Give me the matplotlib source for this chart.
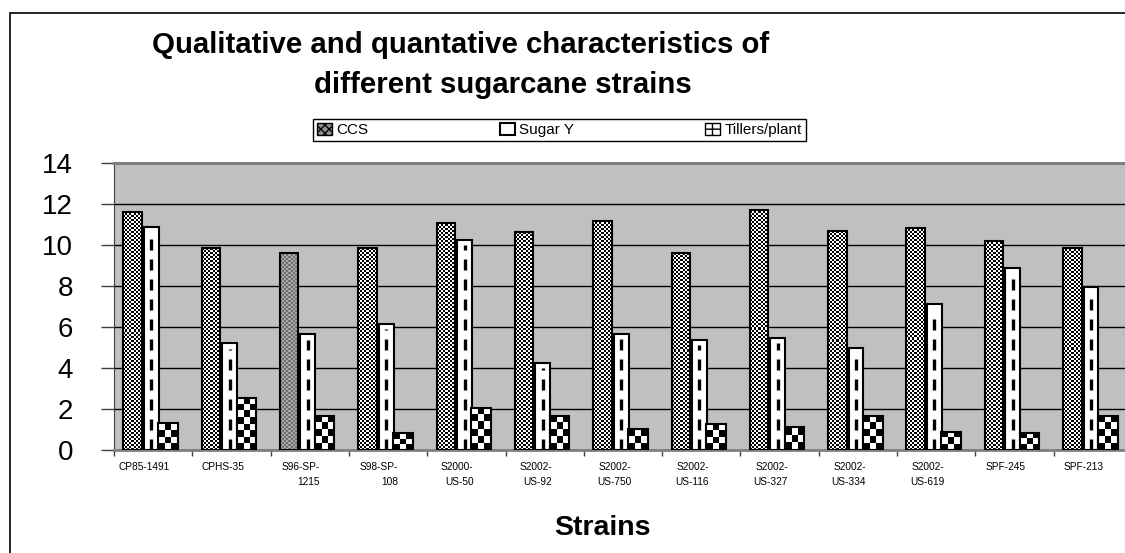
import numpy as np
import matplotlib
matplotlib.use("Agg")
import matplotlib.pyplot as plt
from matplotlib.colors import ListedColormap
from matplotlib.patches import Patch, Rectangle

plt.rcParams['font.family'] = ['Liberation Sans', 'DejaVu Sans']

# Strain data
strains = ["CP85-1491", "CPHS-35", "S96-SP-\n1215", "S98-SP-\n108", "S2000-\nUS-50",
           "S2002-\nUS-92", "S2002-\nUS-750", "S2002-\nUS-116", "S2002-\nUS-327",
           "S2002-\nUS-334", "S2002-\nUS-619", "SPF-245", "SPF-213"]
ccs = [11.62, 9.84, 9.63, 9.84, 11.09, 10.61, 11.18, 9.59, 11.71, 10.66, 10.85, 10.2, 9.87]
sugar_y = [10.9, 5.2, 5.64, 6.15, 10.24, 4.23, 5.66, 5.37, 5.45, 4.99, 7.1, 8.86, 7.97]
tillers = [1.30, 2.55, 1.67, 0.81, 2.06, 1.67, 1.01, 1.27, 1.10, 1.67, 0.90, 0.85, 1.66]
y_ticks = [0, 2, 4, 6, 8, 10, 12, 14]

W, H = 1125, 553
fig = plt.figure(figsize=(W / 100, H / 100), dpi=100)

# plot area in pixels: x 114..1132, y 163..450
ax = fig.add_axes([114 / W, 1 - 450 / H, 1018 / W, 287 / H])
ax.set_facecolor('#c0c0c0')
ax.set_xlim(-0.5, len(strains) - 0.5)
ax.set_ylim(0, 14)
ax.set_autoscale_on(False)

x = np.arange(len(strains))


def checker_fill(bar, cell_px, colors, z):
    x0, y0 = bar.get_x(), bar.get_y()
    w, h = bar.get_width(), bar.get_height()
    (px0, py0), (px1, py1) = ax.transData.transform([(x0, y0), (x0 + w, y0 + h)])
    nx = max(1, int(round((px1 - px0) / cell_px)))
    ny = max(1, int(round((py1 - py0) / cell_px)))
    grid = np.indices((ny, nx)).sum(axis=0) % 2
    ax.imshow(grid, extent=(x0, x0 + w, y0, y0 + h), cmap=ListedColormap(colors),
              interpolation='nearest', aspect='auto', origin='lower',
              zorder=z, clip_path=bar, clip_on=True)


# CCS bars: fine checker
ccs_bars = ax.bar(x - 0.262, ccs, 0.236, color='white', zorder=3)
for i, b in enumerate(ccs_bars):
    cols = ['#707070', '#a8a8a8'] if i == 2 else ['black', 'white']
    checker_fill(b, 2, cols, 3.1)
ax.bar(x - 0.262, ccs, 0.236, fill=False, edgecolor='black', linewidth=1.5, zorder=3.3)

# Sugar Y bars: white with dashed centre line
ax.bar(x - 0.024, sugar_y, 0.19, color='white', edgecolor='black', linewidth=1.5, zorder=3)
ax.vlines(x - 0.024, 0, np.array(sugar_y) - 0.25, colors='black', linewidth=2.4,
          linestyles=[(0, (3.3, 2.7))], zorder=3.2)

# Tillers/plant bars: coarse checker
till_bars = ax.bar(x + 0.19, tillers, 0.25, color='white', zorder=3.4)
for b in till_bars:
    checker_fill(b, 6.5, ['black', 'white'], 3.45)
ax.bar(x + 0.19, tillers, 0.25, fill=False, edgecolor='black', linewidth=1.5, zorder=3.5)

# grid and axes
ax.set_yticks(y_ticks)
ax.yaxis.grid(True, color='black', linewidth=1)
ax.set_axisbelow(True)
ax.tick_params(axis='y', direction='out', length=9.5, width=1, color='#404040',
               pad=20, labelsize=20)
ax.set_xticks(np.arange(len(strains) + 1) - 0.5)
ax.set_xticklabels([])
ax.tick_params(axis='x', which='major', direction='out', length=4, width=1, color='#404040')
ax.set_xticks(x - 0.115, minor=True)
ax.set_xticklabels(strains, minor=True, fontsize=7.3, multialignment='right',
                   linespacing=1.55)
ax.tick_params(axis='x', which='minor', length=0, pad=9)

ax.spines['left'].set_color('#404040')
ax.spines['top'].set_color('#808080')
ax.spines['top'].set_linewidth(2.2)
ax.spines['bottom'].set_color('#808080')
ax.spines['bottom'].set_linewidth(2)
ax.spines['right'].set_visible(False)

# chart border
fig.patches.append(Rectangle((10 / W, -0.1), 1.2, 1.1 - 13 / H,
                             transform=fig.transFigure, fill=False,
                             edgecolor='black', linewidth=1.2))

# titles
fig.text(461 / W, 1 - 45 / H, "Qualitative and quantative characteristics of",
         ha='center', va='center', fontsize=21.2, fontweight='bold')
fig.text(503 / W, 1 - 85 / H, "different sugarcane strains",
         ha='center', va='center', fontsize=21.2, fontweight='bold')
fig.text(602 / W, 1 - 528 / H, "Strains", ha='center', va='center',
         fontsize=20.5, fontweight='bold')

# legend
handles = [Patch(facecolor='#909090', edgecolor='black', hatch='xxxx', label='CCS'),
           Patch(facecolor='white', edgecolor='black', linewidth=1.5, label='Sugar Y'),
           Patch(facecolor='white', edgecolor='black', hatch='++', label='Tillers/plant')]
fig.legend(handles=handles, ncol=3, loc='lower left', mode='expand',
           bbox_to_anchor=(313 / W, 1 - 141 / H, 493 / W, 25 / H),
           fancybox=False, edgecolor='black', framealpha=1, fontsize=11,
           handlelength=1.0, handleheight=0.8, handletextpad=0.3,
           borderpad=0.25, borderaxespad=0)

fig.savefig('out.png', dpi=100)
